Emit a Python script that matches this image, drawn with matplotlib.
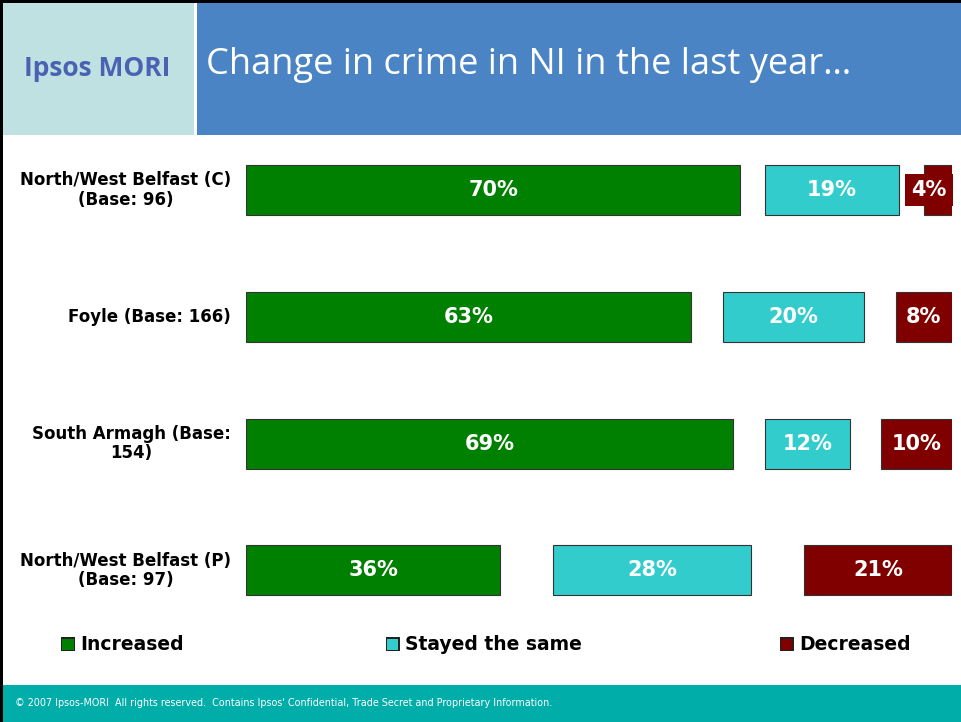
import numpy as np
import matplotlib
matplotlib.use("Agg")
import matplotlib.pyplot as plt
from matplotlib.patches import Rectangle

# survey results, % of respondents
areas = ["North/West Belfast (C)\n(Base: 96)",
         "Foyle (Base: 166)",
         "South Armagh (Base:\n154)",
         "North/West Belfast (P)\n(Base: 97)"]
series = ["Increased", "Stayed the same", "Decreased"]
increased = [70, 63, 69, 36]
same = [19, 20, 12, 28]
decreased = [4, 8, 10, 21]

colors = ["#008000", "#33CCCC", "#800000"]
W, H = 962, 722

fig = plt.figure(figsize=(W / 100, H / 100), dpi=100)


def box(x, y, w, h):
    # pixel box (top-left origin) -> figure fraction
    return [x / W, 1 - (y + h) / H, w / W, h / H]


def add_rect(x, y, w, h, color):
    fig.patches.append(Rectangle((x / W, 1 - (y + h) / H), w / W, h / H,
                                 transform=fig.transFigure, facecolor=color,
                                 edgecolor="none", zorder=0))


# header
add_rect(0, 0, W, 3, "black")
add_rect(0, 0, 3, H, "black")
add_rect(3, 3, 191, 132, "#BFE1E1")
add_rect(197, 3, W - 197, 132, "#4A84C4")
fig.text(97 / W, 1 - 69 / H, "Ipsos MORI", color="#4A62B2", fontsize=19,
         fontweight="bold", family="Open Sans", ha="center", va="center")
fig.text(206 / W, 1 - 65 / H, "Change in crime in NI in the last year…",
         color="white", fontsize=26, family="Open Sans", ha="left", va="center")

# footer
add_rect(3, 685, W - 3, H - 685, "#00ADA9")
fig.text(15 / W, 1 - 703 / H,
         "© 2007 Ipsos-MORI  All rights reserved.  Contains Ipsos' Confidential, "
         "Trade Secret and Proprietary Information.",
         color="white", fontsize=6.9, family="DejaVu Sans", va="center")

# bars
ax = fig.add_axes(box(246, 126.7, 706, 507))
y = np.arange(len(areas))
inc = np.array(increased)
stay = np.array(same)
dec = np.array(decreased)
gap = (100 - inc - stay - dec) / 2
starts = [np.zeros(len(y)), inc + gap, inc + stay + 2 * gap]
for vals, left, c in zip([inc, stay, dec], starts, colors):
    bars = ax.barh(y, vals, left=left, height=0.395, color=c,
                   edgecolor="#333333", linewidth=0.8)
    for b, v in zip(bars, vals):
        yc = b.get_y() + b.get_height() / 2
        if v < 6:
            # too narrow: keep the label inside the plot edge
            ax.text(b.get_x() + b.get_width() - 0.75, yc, f"{v}%", color="white",
                    fontsize=15, fontweight="bold", ha="right", va="center",
                    bbox=dict(facecolor=c, edgecolor="none", pad=4.5))
        else:
            ax.text(b.get_x() + b.get_width() / 2, yc, f"{v}%", color="white",
                    fontsize=15, fontweight="bold", ha="center", va="center")
ax.set_xlim(0, 100)
ax.set_ylim(3.5, -0.5)
ax.axis("off")

for i, lab in enumerate(areas):
    ax.text(-2.1, i, lab, ha="right", va="center", fontsize=12,
            fontweight="bold", multialignment="center", linespacing=1.1)

# legend
leg_x = [61, 386, 780]
for name, c, lx in zip(series, colors, leg_x):
    add_rect(lx, 637, 14, 14, "#222222")
    add_rect(lx + 1.5, 638.5, 11, 11, c)
    fig.text((lx + 19) / W, 1 - 644 / H, name, fontsize=13.5, fontweight="bold",
             va="center", ha="left")

fig.savefig("out.png", dpi=100)
